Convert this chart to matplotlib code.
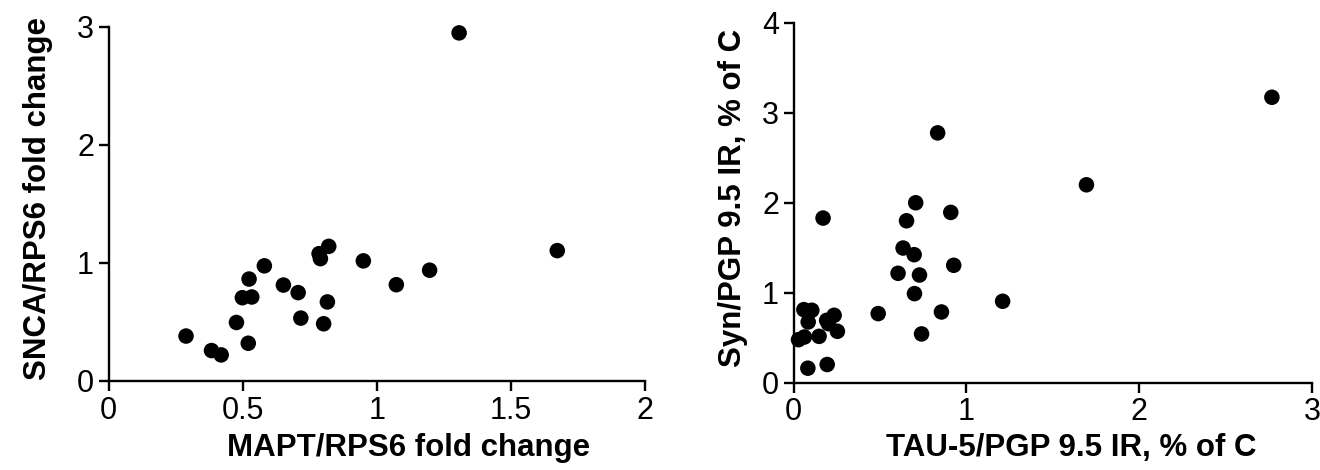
"""
Two scatter panels: SNCA vs MAPT fold change, Syn vs TAU-5 immunoreactivity.
"""
import matplotlib
matplotlib.use("Agg")
import matplotlib.pyplot as plt

# left panel: MAPT/RPS6 vs SNCA/RPS6 fold change
mapt_fc = [1.307, 1.673, 0.821, 0.785, 0.790, 0.950, 1.197, 1.073, 0.581, 0.524, 0.652,
           0.707, 0.499, 0.534, 0.816, 0.717, 0.802, 0.477, 0.521, 0.289, 0.384, 0.420]
snca_fc = [2.950, 1.105, 1.141, 1.079, 1.037, 1.018, 0.939, 0.816, 0.976, 0.864, 0.813,
           0.749, 0.706, 0.712, 0.670, 0.533, 0.485, 0.496, 0.320, 0.381, 0.258, 0.221]

# right panel: TAU-5/PGP 9.5 IR vs Syn/PGP 9.5 IR (% of C)
tau5_ir = [2.768, 1.695, 0.834, 0.707, 0.910, 0.171, 0.654, 0.634, 0.698, 0.927, 0.605,
           0.729, 0.700, 1.210, 0.490, 0.856, 0.741, 0.083, 0.195,
           0.060, 0.106, 0.085, 0.029, 0.063, 0.148, 0.192, 0.235, 0.202, 0.254]
syn_ir = [3.171, 2.198, 2.775, 1.998, 1.891, 1.828, 1.798, 1.495, 1.421, 1.303, 1.214,
          1.195, 0.988, 0.903, 0.766, 0.784, 0.540, 0.159, 0.200,
          0.810, 0.803, 0.673, 0.476, 0.506, 0.513, 0.691, 0.747, 0.654, 0.569]

W, H = 1320, 470
TICK_FONT = ["Liberation Sans Narrow", "Liberation Sans", "DejaVu Sans"]
LABEL_FONT = ["Liberation Sans", "DejaVu Sans"]


def style_axes(ax, xlim, ylim, xticks, yticks, xticklabels):
    ax.set_xlim(*xlim)
    ax.set_ylim(*ylim)
    for side in ("top", "right"):
        ax.spines[side].set_visible(False)
    for side in ("left", "bottom"):
        ax.spines[side].set_linewidth(1.7)
    ax.set_xticks(xticks)
    ax.set_xticklabels(xticklabels)
    ax.set_yticks(yticks)
    ax.set_yticklabels([str(t) for t in yticks])
    ax.tick_params(direction="out", length=7, width=1.7, labelsize=22, pad=3.5)
    for lab in ax.get_xticklabels() + ax.get_yticklabels():
        lab.set_family(TICK_FONT)


fig = plt.figure(figsize=(W / 100, H / 100), dpi=100)

# left panel
ax1 = fig.add_axes([108.5 / W, 1 - 381 / H, (645 - 108.5) / W, (381 - 27) / H])
ax1.scatter(mapt_fc, snca_fc, s=125, color="black", edgecolors="none", clip_on=False, zorder=3)
style_axes(ax1, (0, 2), (0, 3), [0, 0.5, 1, 1.5, 2], [0, 1, 2, 3],
           ["0", "0.5", "1", "1.5", "2"])
ax1.set_xlabel("MAPT/RPS6 fold change", fontsize=22.5, fontweight="bold", family=LABEL_FONT)
ax1.set_ylabel("SNCA/RPS6 fold change", fontsize=22.5, fontweight="bold", family=LABEL_FONT)
ax1.xaxis.set_label_coords((409 - 108.5) / (645 - 108.5), -(433 - 381) / (381 - 27))
ax1.yaxis.set_label_coords(-(108.5 - 53) / (645 - 108.5), (381 - 198) / (381 - 27))

# right panel
ax2 = fig.add_axes([793.5 / W, 1 - 382.5 / H, (1312 - 793.5) / W, (382.5 - 22.7) / H])
ax2.scatter(tau5_ir, syn_ir, s=125, color="black", edgecolors="none", clip_on=False, zorder=3)
style_axes(ax2, (0, 3), (0, 4), [0, 1, 2, 3], [0, 1, 2, 3, 4], ["0", "1", "2", "3"])
ax2.set_xlabel("TAU-5/PGP 9.5 IR, % of C", fontsize=22.5, fontweight="bold", family=LABEL_FONT)
ax2.set_ylabel("Syn/PGP 9.5 IR, % of C", fontsize=22.5, fontweight="bold", family=LABEL_FONT)
ax2.xaxis.set_label_coords((1071 - 793.5) / (1312 - 793.5), -(433 - 382.5) / (382.5 - 22.7))
ax2.yaxis.set_label_coords(-(793.5 - 748) / (1312 - 793.5), (382.5 - 198) / (382.5 - 22.7))

fig.savefig("out.png", dpi=100)
